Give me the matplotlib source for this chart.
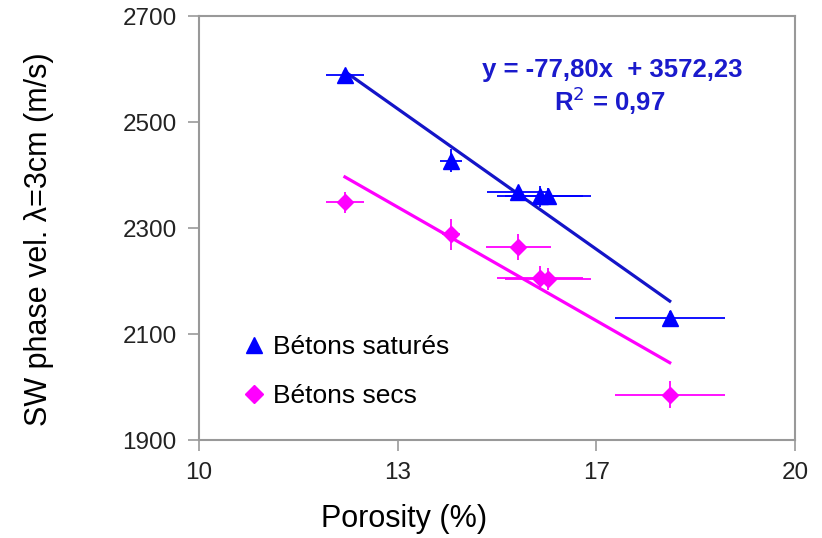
# porosity vs SW phase velocity, saturated and dry concrete

import numpy
import matplotlib
matplotlib.use('Agg')
import matplotlib.pyplot as plt

plt.rcParams['font.family'] = ['Liberation Sans', 'DejaVu Sans']

# Data
porosity = [12.45, 14.23, 15.36, 15.73, 15.86, 17.90]
porosityErr = [0.32, 0.18, 0.53, 0.72, 0.72, 0.92]

velSat = [2588, 2427, 2369, 2360, 2360, 2131]
velSatErr = [8, 22, 10, 20, 15, 12]

velDry = [2349, 2288, 2264, 2206, 2204, 1986]
velDryErr = [20, 29, 25, 22, 20, 26]
porosityErrDry = [0.32, 0.15, 0.54, 0.72, 0.72, 0.92]

xTicks = [10, 10 + 10/3., 10 + 20/3., 20]
xTickLabels = ['10', '13', '17', '20']
yTicks = [1900, 2100, 2300, 2500, 2700]

eqText = "y = -77,80x  + 3572,23"
r2Text = "R$^2$ = 0,97"

blue = '#0000FF'
lineBlue = '#1414C8'
pink = '#FF00FF'

fig = plt.figure(figsize=(8.22, 5.38), dpi=100)
ax = fig.add_axes([0.242, 0.182, 0.725, 0.788])

# Error bars and markers
ax.errorbar(porosity, velSat, xerr=porosityErr, yerr=velSatErr, fmt='^',
            color=blue, ms=12, elinewidth=1.3, capsize=0, zorder=3,
            label='Bétons saturés')
ax.errorbar(porosity, velDry, xerr=porosityErrDry, yerr=velDryErr, fmt='D',
            color=pink, ms=8, elinewidth=1.3, capsize=0, zorder=3,
            label='Bétons secs')

# Linear fits
px = numpy.array([min(porosity), max(porosity)])
a, b = numpy.polyfit(porosity, velSat, 1)
ax.plot(px, a*px + b, '-', color=lineBlue, lw=2.3, zorder=2)
a, b = numpy.polyfit(porosity, velDry, 1)
ax.plot(px, a*px + b, '-', color=pink, lw=2.3, zorder=2)

ax.text(0.694, 0.873, eqText, transform=ax.transAxes, ha='center', va='center',
        color='#1a1acc', fontsize=18.5, fontweight='bold')
ax.text(0.69, 0.80, r2Text, transform=ax.transAxes, ha='center', va='center',
        color='#1a1acc', fontsize=18.5, fontweight='bold')

ax.set_xlim(10, 20)
ax.set_ylim(1900, 2700)
ax.set_xticks(xTicks)
ax.set_xticklabels(xTickLabels)
ax.set_yticks(yTicks)

for s in ax.spines.values():
    s.set_color('#999999')
    s.set_linewidth(1.5)
ax.tick_params(direction='out', length=8, width=1.2, color='#999999',
               labelsize=17.5, labelcolor='#222222', pad=8)

ax.set_xlabel('Porosity (%)', fontsize=22)
ax.set_ylabel('SW phase vel. λ=3cm (m/s)', fontsize=22)
ax.xaxis.set_label_coords(0.345, -0.15)
ax.yaxis.set_label_coords(-0.243, 0.474)

# legend with only markers (no error bars)
handles = [plt.Line2D([], [], marker='^', color=blue, ls='none', ms=12),
           plt.Line2D([], [], marker='D', color=pink, ls='none', ms=9)]
ax.legend(handles, ['Bétons saturés', 'Bétons secs'], loc='lower left',
          bbox_to_anchor=(0.035, 0.02), frameon=False, fontsize=19,
          handlelength=0.8, handletextpad=0.3, labelspacing=0.95)

fig.savefig('out.png', dpi=100)
